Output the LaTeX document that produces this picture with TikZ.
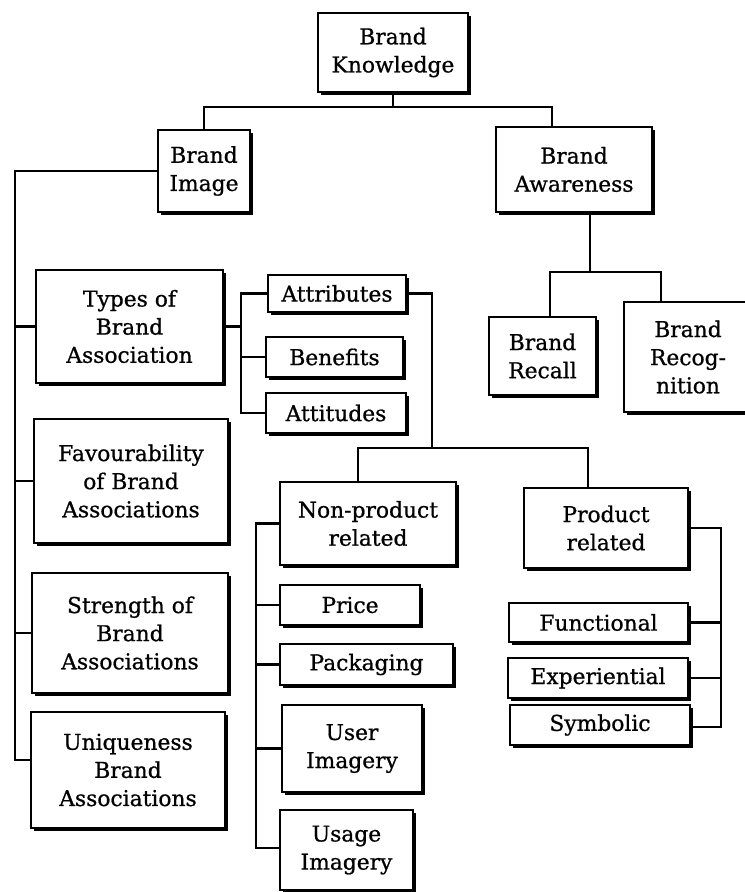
\documentclass[tikz,border=0pt]{standalone}
\usepackage{fontspec}
\setmainfont{DejaVu Serif}[BoldFont={DejaVu Serif}, BoldFeatures={FakeBold=0.8}]
\usepackage{tikz}
\usetikzlibrary{positioning,shadows}

\begin{document}
\begin{tikzpicture}[
    x=0.025cm, y=-0.025cm,
    font=\fontsize{15.5}{20}\selectfont\bfseries,
    box/.style={draw, line width=1.6pt, fill=white, align=center, inner sep=0pt,
        drop shadow={shadow xshift=1.8pt, shadow yshift=-1.8pt, opacity=1, fill=black}},
    link/.style={line width=1.8pt}
]
\useasboundingbox (0,0) rectangle (744,892);

\node[box, minimum width=3.75cm, minimum height=1.975cm] (bk) at (393,52.5) {Brand\\Knowledge};
\node[box, minimum width=2.3cm, minimum height=2.05cm] (img) at (204,171) {Brand\\Image};
\node[box, minimum width=3.9cm, minimum height=2.125cm] (aware) at (574,169.5) {Brand\\Awareness};
\node[box, minimum width=2.675cm, minimum height=1.95cm] (recall) at (542.5,356) {Brand\\Recall};
\node[box, minimum width=3.2cm, minimum height=2.75cm] (recog) at (688,357) {Brand\\Recog-\\nition};

\node[box, minimum width=4.675cm, minimum height=2.825cm] (types) at (129.5,326.5) {Types of\\Brand\\Association};
\node[box, minimum width=4.85cm, minimum height=3.1cm] (fav) at (131,481) {Favourability\\of Brand\\Associations};
\node[box, minimum width=4.9cm, minimum height=3cm] (strength) at (130,633) {Strength of\\Brand\\Associations};
\node[box, minimum width=4.85cm, minimum height=2.9cm] (unique) at (128,770) {Uniqueness\\Brand\\Associations};

\node[box, minimum width=3.45cm, minimum height=0.925cm] (attr) at (337,293.5) {Attributes};
\node[box, minimum width=3.425cm, minimum height=1cm] (bene) at (334.5,357) {Benefits};
\node[box, minimum width=3.5cm, minimum height=1cm] (atti) at (336,413) {Attitudes};

\node[box, minimum width=4.4cm, minimum height=2.075cm] (nonprod) at (368,523.5) {Non-product\\related};
\node[box, minimum width=4.1cm, minimum height=2cm] (prod) at (606,528) {Product\\related};

\node[box, minimum width=3.5cm, minimum height=1cm] (price) at (350,605) {Price};
\node[box, minimum width=4.325cm, minimum height=1.025cm] (pack) at (366.5,664.5) {Packaging};
\node[box, minimum width=3.5cm, minimum height=2.175cm] (user) at (352,748.5) {User\\Imagery};
\node[box, minimum width=3.325cm, minimum height=2cm] (usage) at (346.5,850) {Usage\\Imagery};

\node[box, minimum width=4.475cm, minimum height=0.975cm] (func) at (598.5,622.5) {Functional};
\node[box, minimum width=4.5cm, minimum height=1cm] (exp) at (598,678) {Experiential};
\node[box, minimum width=4.5cm, minimum height=1cm] (sym) at (600,725) {Symbolic};

\coordinate (kj) at (393,107);
\coordinate (aj) at (590,272);
\coordinate (lt) at (15,760);
\coordinate (tt) at (241,0);
\coordinate (rj) at (432,448);
\coordinate (nt) at (256,848);
\coordinate (pt) at (721,727);

\draw[link] (bk) -- (kj);
\draw[link] (img.north) |- (kj) -| ([xshift=-0.55cm]aware.north);
\draw[link] (aware.south -| aj) -- (aj);
\draw[link] ([xshift=0.19cm]recall.north) |- (aj) -| ([xshift=-0.675cm]recog.north);

\draw[link] (img.west) -| (lt) -- (unique.west |- lt);
\foreach \n in {types, fav, strength}
    \draw[link] (\n.west) -- (\n.west -| lt);

\draw[link] (types.east) -- (types.east -| tt);
\draw[link] (attr.west) -| (tt |- atti.west) -- (atti.west);
\draw[link] (bene.west) -- (bene.west -| tt);

\draw[link] (attr.east) -| (rj);
\draw[link] ([xshift=-0.25cm]nonprod.north) |- (rj) -| ([xshift=-0.45cm]prod.north);

\draw[link] (nonprod.west) -| (nt) -- (usage.west |- nt);
\foreach \n in {price, pack, user}
    \draw[link] (\n.west) -- (\n.west -| nt);

\draw[link] (prod.east) -| (pt) -- (sym.east |- pt);
\foreach \n in {func, exp}
    \draw[link] (\n.east) -- (\n.east -| pt);
\end{tikzpicture}
\end{document}
